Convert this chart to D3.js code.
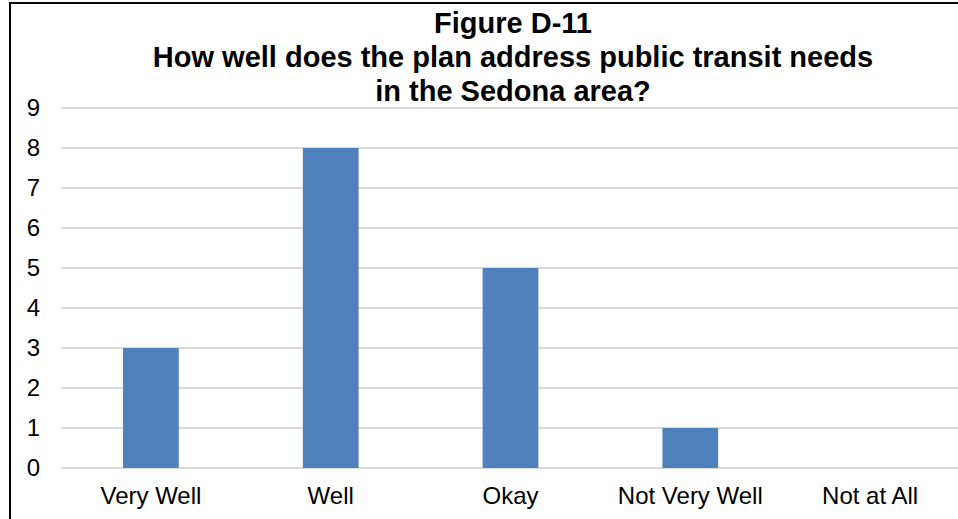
<!DOCTYPE html>
<html>
<head>
<meta charset="utf-8">
<script src="https://cdn.jsdelivr.net/npm/d3@7"></script>
<style>
  html, body { margin: 0; padding: 0; background: #fff; }
  svg { display: block; }
</style>
</head>
<body>
<svg id="chart" width="958" height="519"></svg>
<script>
const categories = ["Very Well", "Well", "Okay", "Not Very Well", "Not at All"];
const values = [3, 8, 5, 1, 0];
const yTicks = [0, 1, 2, 3, 4, 5, 6, 7, 8, 9];
const titleLines = ["Figure D-11", "How well does the plan address public transit needs", "in the Sedona area?"];

const svg = d3.select("#chart");
const W = 958, H = 519;
const font = "'Liberation Sans', Arial, sans-serif";

svg.append("rect").attr("width", W).attr("height", H).attr("fill", "#fff");

// border (right/bottom lie outside the crop)
svg.append("rect")
  .attr("x", 10).attr("y", 3)
  .attr("width", W + 20).attr("height", H + 20)
  .attr("fill", "none").attr("stroke", "#000").attr("stroke-width", 2);

const x = d3.scaleBand().domain(categories).range([61, 960]).paddingInner(0.69).paddingOuter(0.345);
const y = d3.scaleLinear().domain([0, 9]).range([468, 108]);

// gridlines
svg.append("g").selectAll("line").data(yTicks).join("line")
  .attr("x1", 61).attr("x2", 960)
  .attr("y1", d => y(d)).attr("y2", d => y(d))
  .attr("stroke", "#d9d9d9").attr("stroke-width", 2);

// bars
svg.append("g").selectAll("rect").data(values).join("rect")
  .attr("x", (d, i) => x(categories[i]))
  .attr("width", x.bandwidth())
  .attr("y", d => y(d))
  .attr("height", d => y(0) - y(d))
  .attr("fill", "#4F81BD");

// y axis
const yAxis = d3.axisLeft(y).tickValues(yTicks).tickSize(0).tickPadding(0).tickFormat(d3.format("d"));
const yg = svg.append("g").attr("transform", "translate(40,0)").call(yAxis);
yg.select(".domain").remove();
yg.selectAll("text").attr("font-family", font).attr("font-size", 24).attr("fill", "#000");

// x axis
const xAxis = d3.axisBottom(x).tickSize(0).tickPadding(0);
const xg = svg.append("g").attr("transform", "translate(0,487)").call(xAxis);
xg.select(".domain").remove();
xg.selectAll("text").attr("font-family", font).attr("font-size", 24).attr("fill", "#000").attr("dy", "0.71em");

// title
svg.append("g").selectAll("text").data(titleLines).join("text")
  .attr("x", 513)
  .attr("y", (d, i) => 33 + i * 34)
  .attr("text-anchor", "middle")
  .attr("font-family", font).attr("font-size", 29).attr("font-weight", "bold")
  .attr("fill", "#000")
  .text(d => d);
</script>
</body>
</html>
